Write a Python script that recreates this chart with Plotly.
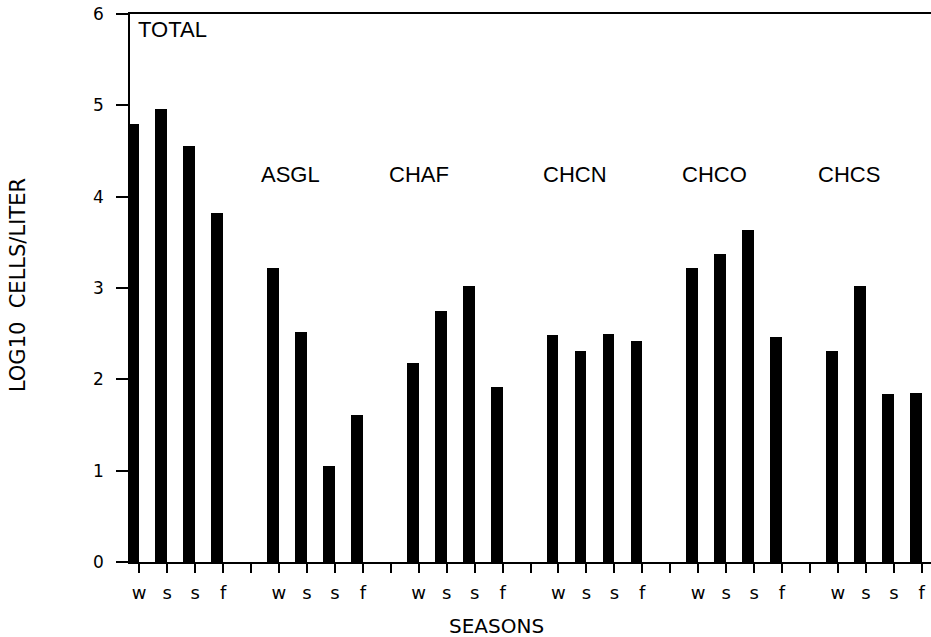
import plotly.graph_objects as go

groups = ["TOTAL", "ASGL", "CHAF", "CHCN", "CHCO", "CHCS"]
seasons = ["w", "s", "s", "f"]
total = [4.80, 4.96, 4.55, 3.82]
asgl = [3.22, 2.52, 1.05, 1.61]
chaf = [2.18, 2.75, 3.02, 1.92]
chcn = [2.49, 2.31, 2.50, 2.42]
chco = [3.22, 3.37, 3.64, 2.46]
chcs = [2.31, 3.02, 1.84, 1.85]
values = [total, asgl, chaf, chcn, chco, chcs]

slot = len(seasons) + 1  # one empty slot between groups
xs, ys = [], []
for g, vals in enumerate(values):
    for s, v in enumerate(vals):
        xs.append(g * slot + s)
        ys.append(v)

n_slots = len(groups) * slot - 1
tickvals = list(range(n_slots))
ticktext = [seasons[i % slot] if i % slot < len(seasons) else "" for i in tickvals]

fig = go.Figure()
fig.add_trace(go.Bar(x=xs, y=ys, width=0.42, offset=-0.42,
                     marker=dict(color="black", line=dict(width=0)),
                     showlegend=False, hoverinfo="skip"))

# group label placement (x offset from group start, y in data units)
label_dx = [1.2, 0.4, 0.0, 0.6, 0.6, 0.4]
label_y = [5.83, 4.24, 4.24, 4.24, 4.24, 4.24]
annotations = []
for g, name in enumerate(groups):
    annotations.append(dict(x=g * slot + label_dx[g], y=label_y[g], xref="x", yref="y",
                            text=name, showarrow=False, xanchor="center", yanchor="middle",
                            font=dict(family="Liberation Sans, Arial", size=22, color="black")))
annotations.append(dict(x=-0.140, y=0.505, xref="paper", yref="paper", text="LOG10  CELLS/LITER",
                        textangle=-90, showarrow=False, xanchor="center", yanchor="middle",
                        font=dict(family="DejaVu Sans", size=21, color="black")))
annotations.append(dict(x=0.458, y=-0.117, xref="paper", yref="paper", text="SEASONS",
                        showarrow=False, xanchor="center", yanchor="middle",
                        font=dict(family="DejaVu Sans", size=20, color="black")))

fig.update_layout(
    width=931, height=637,
    margin=dict(l=130, r=0, t=14, b=75),
    paper_bgcolor="white", plot_bgcolor="white",
    annotations=annotations,
    bargap=0,
    xaxis=dict(range=[-0.33, n_slots - 1 + 0.33], tickmode="array", tickvals=tickvals,
               ticktext=ticktext, ticks="outside", ticklen=9, tickwidth=1.5, tickcolor="black",
               showline=True, linecolor="black", linewidth=1.5, mirror=True,
               showgrid=False, zeroline=False, ticklabelstandoff=5,
               tickfont=dict(family="DejaVu Sans", size=18, color="black")),
    yaxis=dict(range=[0, 6], tickmode="array", tickvals=[0, 1, 2, 3, 4, 5, 6],
               ticks="outside", ticklen=12, tickwidth=1.5, tickcolor="black",
               showline=True, linecolor="black", linewidth=1.5, mirror=False,
               showgrid=False, zeroline=False, ticklabelstandoff=9,
               ticklabeloverflow="allow",
               tickfont=dict(family="DejaVu Sans", size=17, color="black")),
)

# remove the page's default body margin so the figure fills the window exactly
fig.write_html("out.html", config={"displayModeBar": False},
               post_script="document.body.style.margin='0';")
